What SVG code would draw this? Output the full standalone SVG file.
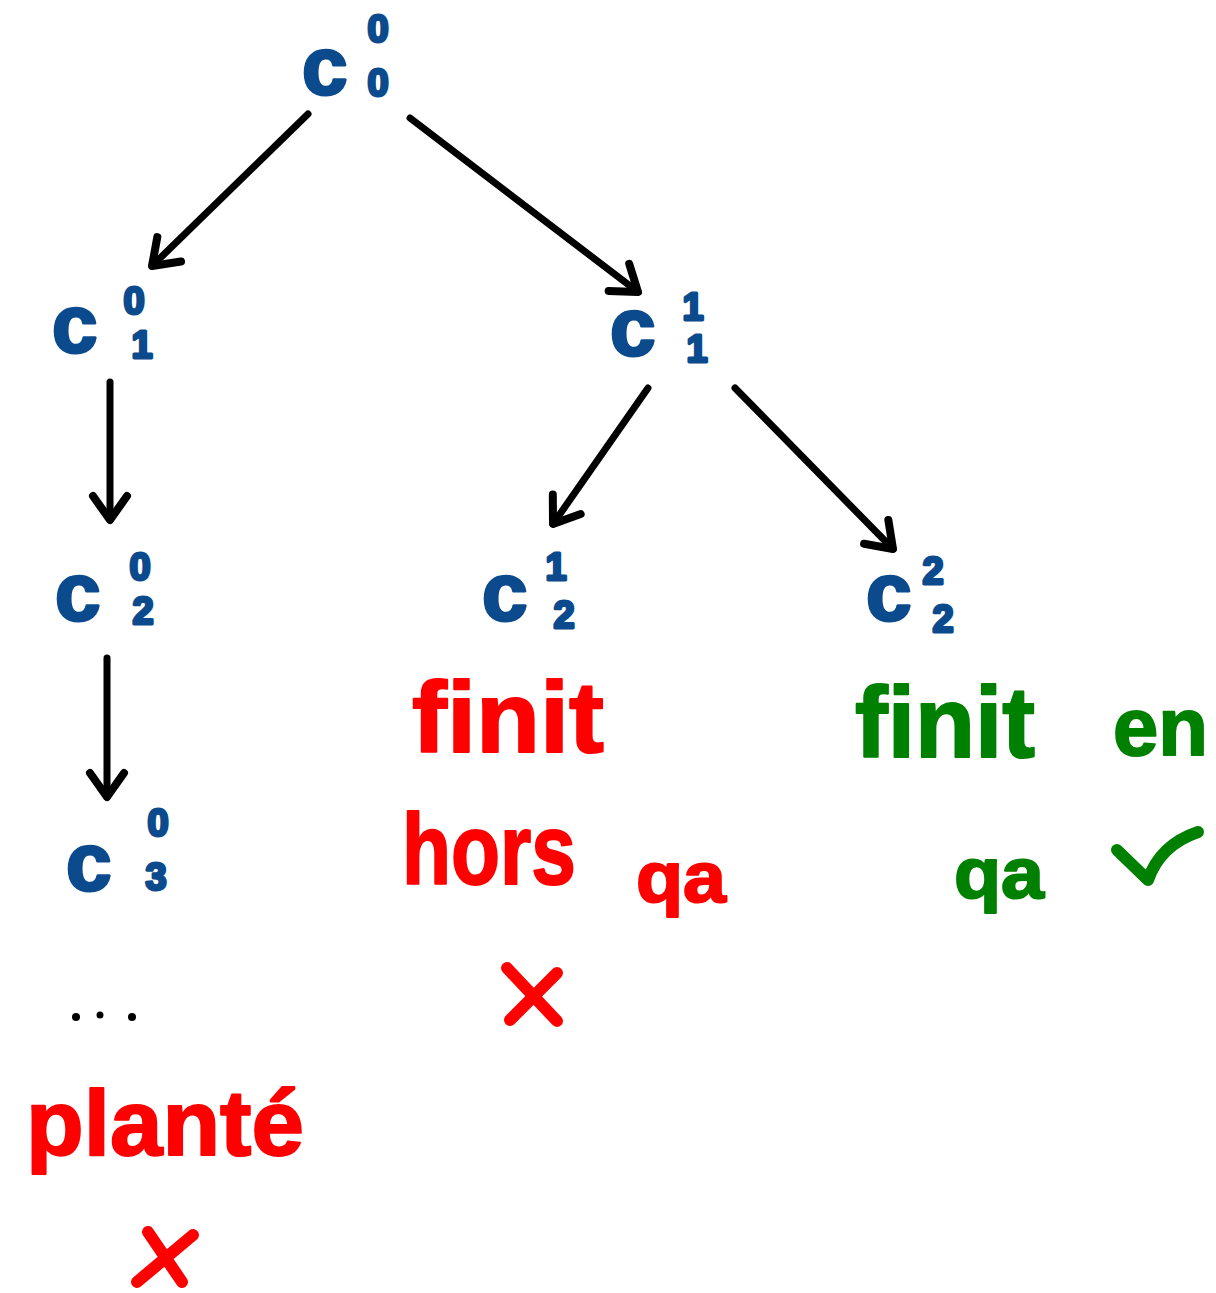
<svg xmlns="http://www.w3.org/2000/svg" width="1216" height="1293" viewBox="0 0 1216 1293">
  <style>
    .st { fill: #0b4a8c; stroke: #0b4a8c; stroke-width: 3; stroke-linejoin: round; font-family: "Liberation Sans", "DejaVu Sans", sans-serif; font-weight: bold; }
    .c { font-size: 82px; }
    .idx { font-size: 38px; text-anchor: middle; }
    .word { font-family: "Liberation Sans", "DejaVu Sans", sans-serif; font-weight: bold; stroke-width: 2; stroke-linejoin: round; }
    .red { fill: #ff0000; stroke: #ff0000; }
    .green { fill: #008000; stroke: #008000; }
    .edge { fill: none; stroke: #000; stroke-width: 7; stroke-linecap: round; marker-end: url(#head); }
    .mark { fill: none; stroke-width: 12; stroke-linecap: round; stroke-linejoin: round; }
  </style>
  <defs>
    <!-- open chevron arrowhead shared by every connector -->
    <marker id="head" markerUnits="userSpaceOnUse" markerWidth="60" markerHeight="60" refX="0" refY="0" viewBox="-30 -30 60 60" orient="auto">
      <path d="M -24 -17 L 0 0 L -24 17" fill="none" stroke="#000" stroke-width="8" stroke-linecap="round" stroke-linejoin="round"/>
    </marker>
  </defs>
  <rect width="1216" height="1293" fill="#fff"/>

  <g id="connectors">
    <path class="edge" d="M 308 114 L 152 266"/>
    <path class="edge" d="M 410 118 L 638 292"/>
    <path class="edge" d="M 110 382 L 110 520"/>
    <path class="edge" d="M 648 388 L 553 524"/>
    <path class="edge" d="M 735 388 L 893 549"/>
    <path class="edge" d="M 107 658 L 107 797"/>
  </g>

  <g id="c0_0">
    <text class="st c" x="302" y="94">c</text>
    <text class="st idx" x="378" y="42">0</text>
    <text class="st idx" x="378" y="96">0</text>
  </g>
  <g id="c1_0">
    <text class="st c" x="52" y="352">c</text>
    <text class="st idx" x="134" y="314">0</text>
    <text class="st idx" x="142" y="358">1</text>
  </g>
  <g id="c1_1">
    <text class="st c" x="610" y="355">c</text>
    <text class="st idx" x="693" y="320">1</text>
    <text class="st idx" x="697" y="362">1</text>
  </g>
  <g id="c2_0">
    <text class="st c" x="55" y="620">c</text>
    <text class="st idx" x="140" y="580">0</text>
    <text class="st idx" x="143" y="624">2</text>
  </g>
  <g id="c2_1">
    <text class="st c" x="482" y="620">c</text>
    <text class="st idx" x="556" y="580">1</text>
    <text class="st idx" x="564" y="628">2</text>
  </g>
  <g id="c2_2">
    <text class="st c" x="866" y="620">c</text>
    <text class="st idx" x="933" y="584">2</text>
    <text class="st idx" x="943" y="632">2</text>
  </g>
  <g id="c3_0">
    <text class="st c" x="66" y="890">c</text>
    <text class="st idx" x="158" y="836">0</text>
    <text class="st idx" x="156" y="890">3</text>
  </g>

  <g id="ellipsis">
    <circle cx="76" cy="1017" r="4" fill="#000"/>
    <circle cx="100" cy="1015" r="3.5" fill="#000"/>
    <circle cx="132" cy="1017" r="4" fill="#000"/>
  </g>

  <g id="planted">
    <text class="word red" x="26" y="1155" font-size="92" textLength="278" lengthAdjust="spacingAndGlyphs">planté</text>
    <path class="mark" stroke="#ff0000" d="M 148 1232 L 182 1282 M 193 1235 L 137 1282"/>
  </g>

  <g id="outside">
    <text class="word red" x="412" y="752" font-size="100" textLength="192" lengthAdjust="spacingAndGlyphs">finit</text>
    <text class="word red" x="402" y="884" font-size="100" textLength="174" lengthAdjust="spacingAndGlyphs">hors</text>
    <text class="word red" x="636" y="902" font-size="72" textLength="90" lengthAdjust="spacingAndGlyphs">qa</text>
    <path class="mark" stroke="#ff0000" d="M 507 968 L 557 1021 M 557 973 L 510 1020"/>
  </g>

  <g id="accepted">
    <text class="word green" x="855" y="757" font-size="100" textLength="180" lengthAdjust="spacingAndGlyphs">finit</text>
    <text class="word green" x="1113" y="755" font-size="82" textLength="95" lengthAdjust="spacingAndGlyphs">en</text>
    <text class="word green" x="954" y="898" font-size="72" textLength="90" lengthAdjust="spacingAndGlyphs">qa</text>
    <path class="mark" stroke="#008000" d="M 1117 850 L 1148 880 Q 1160 845 1198 832"/>
  </g>
</svg>
